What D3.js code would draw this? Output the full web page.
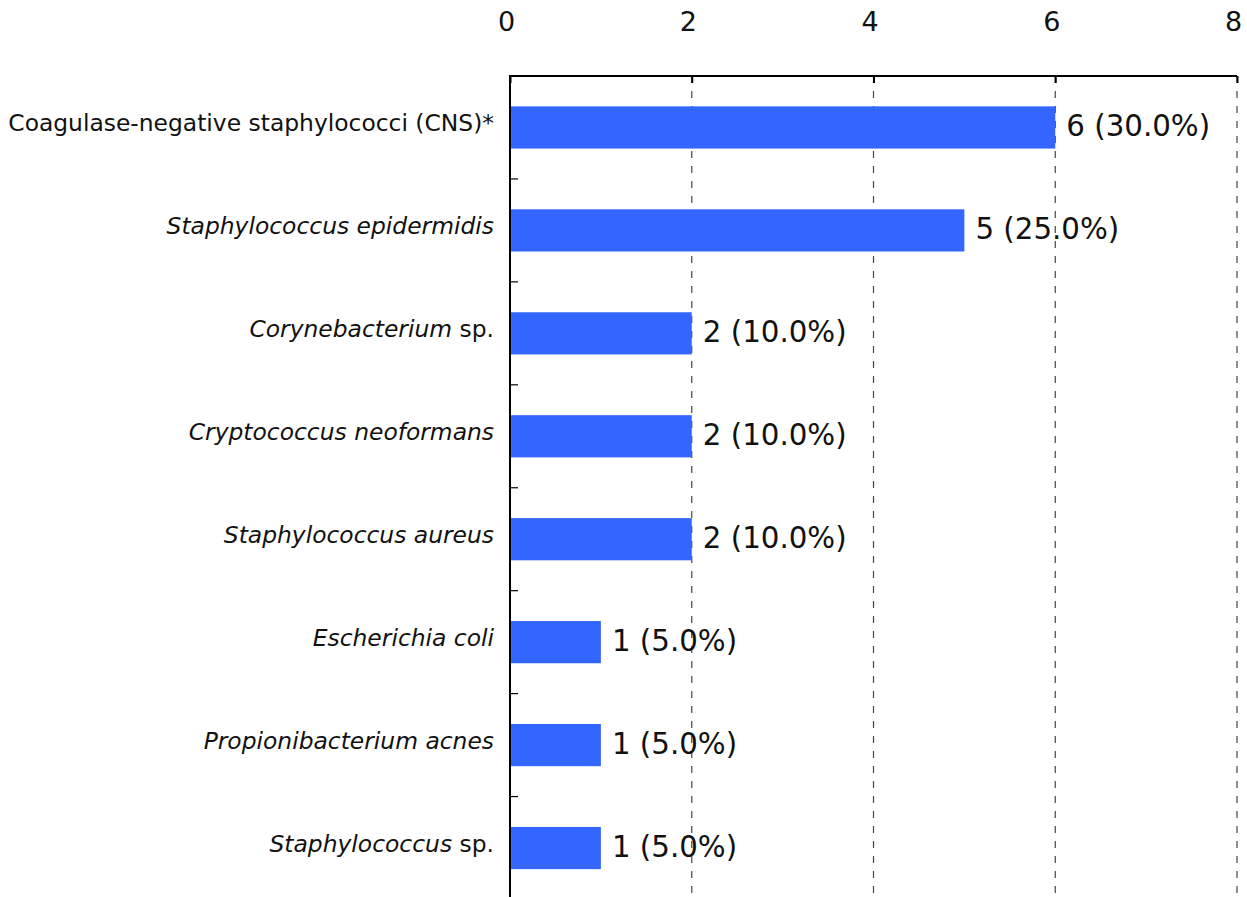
<!DOCTYPE html>
<html><head><meta charset="utf-8">
<script src="https://cdn.jsdelivr.net/npm/d3@7"></script>
<style>body{margin:0;background:#fff;} svg{display:block;}</style>
</head><body>
<svg id="chart" width="1247" height="897"></svg>
<script>
const categories = [
  "Coagulase-negative staphylococci (CNS)*",
  "Staphylococcus epidermidis",
  "Corynebacterium sp.",
  "Cryptococcus neoformans",
  "Staphylococcus aureus",
  "Escherichia coli",
  "Propionibacterium acnes",
  "Staphylococcus sp."
];
// label parts: [text, italic]
const labelParts = [
  [["Coagulase-negative staphylococci (CNS)*", false]],
  [["Staphylococcus epidermidis", true]],
  [["Corynebacterium", true], [" sp.", false]],
  [["Cryptococcus neoformans", true]],
  [["Staphylococcus aureus", true]],
  [["Escherichia coli", true]],
  [["Propionibacterium acnes", true]],
  [["Staphylococcus", true], [" sp.", false]]
];
const counts = [6, 5, 2, 2, 2, 1, 1, 1];
const percents = ["30.0%", "25.0%", "10.0%", "10.0%", "10.0%", "5.0%", "5.0%", "5.0%"];
const xTicks = [0, 2, 4, 6, 8];

const FONT = "DejaVu Sans, Verdana, sans-serif";
const svg = d3.select("#chart");
const pLeft = 510, pRight = 1237, pTop = 76, pBottom = 899.5;

const x = d3.scaleLinear().domain([0, 8]).range([pLeft, pRight]);
const y = d3.scaleBand().domain(categories).range([pTop, pBottom])
  .paddingInner(0.59).paddingOuter(0.295);

// dashed grid
svg.append("g").selectAll("line").data(xTicks.filter(d => d > 0)).join("line")
  .attr("x1", d => x(d)).attr("x2", d => x(d))
  .attr("y1", pTop).attr("y2", 897)
  .attr("stroke", "#444").attr("stroke-width", 1.2)
  .attr("stroke-dasharray", "7,8");

// bars
svg.append("g").selectAll("rect").data(categories).join("rect")
  .attr("x", x(0)).attr("y", d => y(d))
  .attr("width", (d, i) => x(counts[i]) - x(0))
  .attr("height", y.bandwidth())
  .attr("fill", "#3366FF");

// top axis
const xAxis = d3.axisTop(x).tickValues(xTicks).tickSize(-7).tickPadding(0).tickFormat(d3.format("d"));
const gx = svg.append("g").attr("transform", `translate(0,${pTop})`).call(xAxis);
gx.select(".domain").attr("stroke", "#000").attr("stroke-width", 2).attr("d", `M${pLeft},0H${pRight}`);
gx.selectAll(".tick line").attr("stroke", "#000").attr("stroke-width", 2);
gx.selectAll(".tick text").attr("font-family", FONT).attr("font-size", 27).attr("fill", "#111")
  .attr("y", -45.2).attr("dx", -4).attr("dy", "0");

// left axis line
svg.append("line").attr("x1", pLeft).attr("x2", pLeft).attr("y1", pTop - 1).attr("y2", 897)
  .attr("stroke", "#000").attr("stroke-width", 2);
// small tick marks at band boundaries
const boundaries = d3.range(1, categories.length).map(i => y.range()[0] + i * y.step());
svg.append("g").selectAll("line").data(boundaries).join("line")
  .attr("x1", pLeft).attr("x2", pLeft + 8).attr("y1", d => d).attr("y2", d => d)
  .attr("stroke", "#000").attr("stroke-width", 1.2);

// category labels
const lab = svg.append("g").selectAll("text").data(categories).join("text")
  .attr("x", pLeft - 16).attr("y", d => y(d) + y.bandwidth() / 2)
  .attr("dy", "0.15em")
  .attr("text-anchor", "end").attr("font-family", FONT).attr("font-size", 23.4).attr("fill", "#111");
lab.each(function(d, i) {
  d3.select(this).selectAll("tspan").data(labelParts[i]).join("tspan")
    .attr("font-style", p => p[1] ? "italic" : "normal").text(p => p[0]);
});

// value labels
svg.append("g").selectAll("text").data(categories).join("text")
  .attr("x", (d, i) => x(counts[i]) + 11).attr("y", d => y(d) + y.bandwidth() / 2)
  .attr("dy", "0.29em").attr("font-family", FONT).attr("font-size", 29.3).attr("fill", "#111")
  .text((d, i) => `${counts[i]} (${percents[i]})`);
</script>
</body></html>
